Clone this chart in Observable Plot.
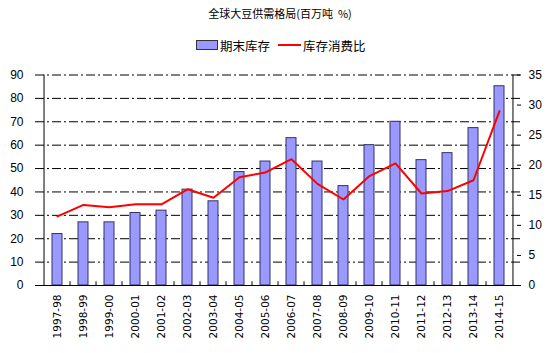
<!DOCTYPE html>
<html>
<head>
<meta charset="utf-8">
<script src="https://cdn.jsdelivr.net/npm/d3@7"></script>
<script src="https://cdn.jsdelivr.net/npm/@observablehq/plot@0.6"></script>
<style>
  html, body { margin: 0; padding: 0; background: #fff; }
  #wrap { position: relative; width: 554px; height: 353px; overflow: hidden; font-family: "Noto Sans CJK SC", sans-serif; color: #000; }
  #title { position: absolute; left: 0; width: 554px; top: 5px; text-align: center; font-size: 11px; line-height: 16px; padding-left: 6px; box-sizing: border-box; }
  #legend { position: absolute; top: 36px; left: 196px; height: 18px; display: flex; align-items: center; font-size: 12.5px; }
  .sw { display: inline-block; width: 20px; height: 8px; background: #9999ff; border: 1px solid #333; margin-right: 2px; }
  .ln { display: inline-block; width: 23px; height: 2px; background: #ff0000; margin: 0 2px 0 8px; }
  #chart { position: absolute; top: 60px; left: 0; }
</style>
</head>
<body>
<div id="wrap">
  <div id="title">全球大豆供需格局(百万吨&nbsp;&nbsp;%)</div>
  <div id="legend"><span class="sw"></span><span>期末库存</span><span class="ln"></span><span>库存消费比</span></div>
  <div id="chart"></div>
</div>
<script>
const categories = ["1997-98","1998-99","1999-00","2000-01","2001-02","2002-03","2003-04","2004-05","2005-06","2006-07","2007-08","2008-09","2009-10","2010-11","2011-12","2012-13","2013-14","2014-15"];
const stocks = [22, 27, 27, 31, 32, 41, 36, 48.5, 53, 63, 53, 42.5, 60, 70, 53.6, 56.6, 67.3, 85.2];
const ratio = [11.5, 13.4, 13.0, 13.5, 13.5, 16.0, 14.6, 18.0, 18.8, 21.0, 16.9, 14.3, 18.2, 20.3, 15.3, 15.7, 17.5, 29.0];
const leftTicks = [0, 10, 20, 30, 40, 50, 60, 70, 80, 90];
const rightTicks = [0, 5, 10, 15, 20, 25, 30, 35];

const data = categories.map((c, i) => ({c, s: stocks[i], r: ratio[i]}));
const k = 90 / 35;
const W = 554, ML = 35, MR = 34;
const half = (W - ML - MR) / categories.length / 2;

const chart = Plot.plot({
  width: W,
  height: 293,
  marginTop: 14.5,
  marginBottom: 68,
  marginLeft: ML,
  marginRight: MR,
  style: {fontFamily: "'Liberation Sans Narrow', 'Liberation Sans', Arial, sans-serif", fontSize: "12px", color: "#000", background: "transparent"},
  x: {domain: categories, paddingInner: 0.63, paddingOuter: 0.315, label: null},
  y: {domain: [0, 90], label: null},
  marks: [
    Plot.ruleY(leftTicks.filter(t => t > 0), {stroke: "#000", strokeWidth: 1, strokeDasharray: "9,3,2,3"}),
    Plot.barY(data, {x: "c", y: "s", fill: "#9999ff", stroke: "#333366", strokeWidth: 1}),
    Plot.lineY(data, {x: "c", y: d => d.r * k, stroke: "#ff0000", strokeWidth: 2}),
    Plot.ruleY([0], {stroke: "#000", strokeWidth: 1}),
    Plot.ruleX([categories[0]], {dx: -half, stroke: "#000", strokeWidth: 1}),
    Plot.ruleX([categories[categories.length - 1]], {dx: half, stroke: "#000", strokeWidth: 1}),
    Plot.ruleX(categories.slice(1), {dx: -half, y1: 0, y2: 1.6, stroke: "#000", strokeWidth: 1}),
    Plot.axisY({ticks: leftTicks, tickSize: 0, tickPadding: 12, anchor: "left", label: null}),
    Plot.axisY({ticks: rightTicks.map(t => t * k), tickFormat: d => String(Math.round(d / k)), anchor: "right", tickSize: -4, tickPadding: 12, label: null}),
    Plot.axisX({tickRotate: -90, tickSize: 0, tickPadding: 9, label: null, fontSize: 10.5, fontFamily: "DejaVu Sans, sans-serif"})
  ]
});
document.getElementById("chart").appendChild(chart);
</script>
</body>
</html>
